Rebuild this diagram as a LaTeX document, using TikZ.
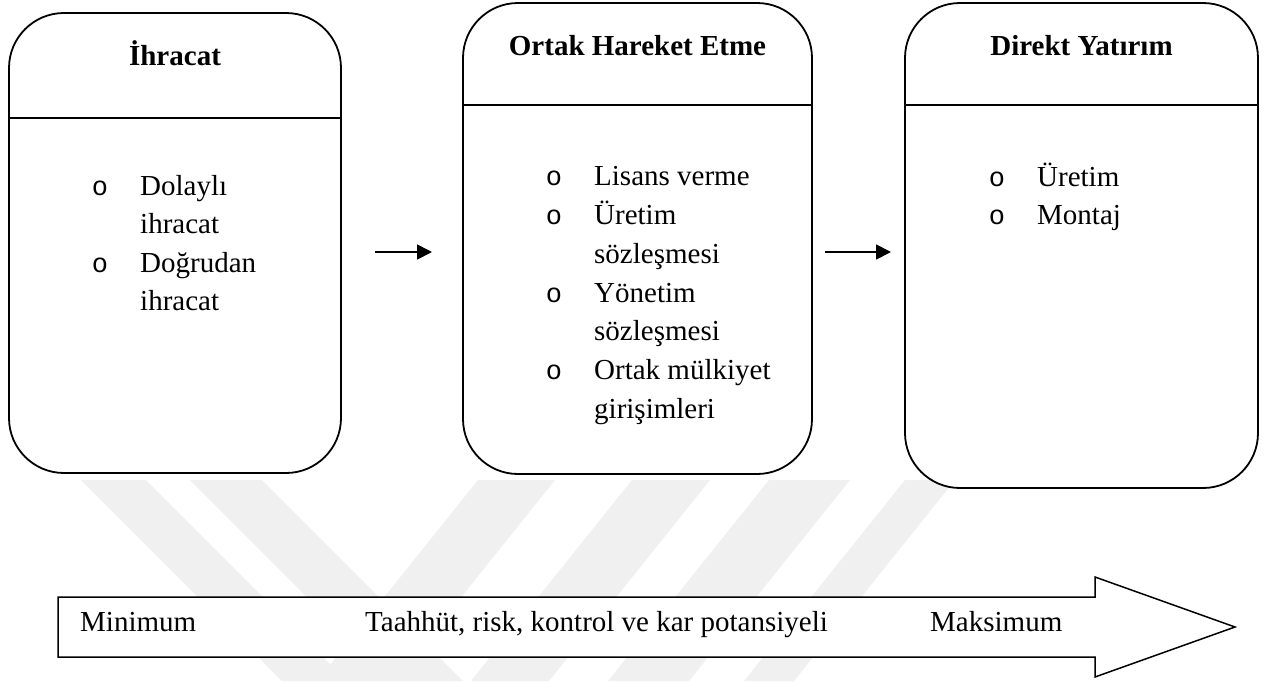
\documentclass[tikz,border=0pt]{standalone}
\usepackage{fontspec}
\setmainfont{Liberation Serif}
\newfontfamily\bulletfont{Liberation Mono}
\usetikzlibrary{arrows.meta}
\begin{document}
\begin{tikzpicture}[x=1pt,y=-1pt,
  box/.style={draw, line width=1.8pt, rounded corners=55pt, fill=white, inner sep=0pt},
  divider/.style={line width=1.8pt},
  title/.style={font=\fontsize{29}{35}\selectfont\bfseries, anchor=base, inner sep=0pt},
  item/.style={font=\fontsize{29}{35}\selectfont, anchor=base west, inner sep=0pt},
  bul/.style={font=\fontsize{27}{35}\selectfont\bulletfont, anchor=base, inner sep=0pt},
  flow/.style={line width=1.8pt, -{Triangle[length=15pt,width=15pt]}},
  bigarrow/.style={draw, line width=1.5pt, fill=white, line join=miter},
  wm/.style={fill=black!6, draw=none}]
\useasboundingbox (0,0) rectangle (1270,681);
\fill[white] (0,0) rectangle (1270,681);
% watermark
\fill[wm] (81,480) -- (146,480) -- (347,681) -- (282,681) -- cycle;
\fill[wm] (190,480) -- (262,480) -- (463,681) -- (391,681) -- cycle;
\fill[wm] (478,480) -- (555,480) -- (394,681) -- (317,681) -- cycle;
\fill[wm] (632,480) -- (710,480) -- (549,681) -- (471,681) -- cycle;
\fill[wm] (769,480) -- (850,480) -- (689,681) -- (608,681) -- cycle;
\fill[wm] (905,480) -- (955,480) -- (794,681) -- (744,681) -- cycle;
% boxes
\node[box, minimum width=332pt, minimum height=460pt] (b1) at (175,243) {};
\node[box, minimum width=349pt, minimum height=471pt] (b2) at (637.5,238.5) {};
\node[box, minimum width=353pt, minimum height=485pt] (b3) at (1081.5,245.5) {};
\draw[divider] (b1.west |- 0,118) -- (b1.east |- 0,118);
\draw[divider] (b2.west |- 0,105) -- (b2.east |- 0,105);
\draw[divider] (b3.west |- 0,105) -- (b3.east |- 0,105);
% titles
\node[title] (t1) at (175,65) {İhracat};
\node[title] (t2) at (637.5,55) {Ortak Hareket Etme};
\node[title] (t3) at (1081.5,55) {Direkt Yatırım};
% box 1 items
\node[bul] (o1a) at (100,195) {o};
\node[item] (i1a) at (140,195) {Dolaylı};
\node[item] (i1b) at (140,233.5) {ihracat};
\node[bul] (o1c) at (100,272) {o};
\node[item] (i1c) at (140,272) {Doğrudan};
\node[item] (i1d) at (140,310.5) {ihracat};
% box 2 items
\node[bul] (o2a) at (554,185) {o};
\node[item] (i2a) at (594,185) {Lisans verme};
\node[bul] (o2b) at (554,224) {o};
\node[item] (i2b) at (594,224) {Üretim};
\node[item] (i2c) at (594,263) {sözleşmesi};
\node[bul] (o2d) at (554,302) {o};
\node[item] (i2d) at (594,302) {Yönetim};
\node[item] (i2e) at (594,340.5) {sözleşmesi};
\node[bul] (o2f) at (554,379) {o};
\node[item] (i2f) at (594,379) {Ortak mülkiyet};
\node[item] (i2g) at (594,418) {girişimleri};
% box 3 items
\node[bul] (o3a) at (997,186) {o};
\node[item] (i3a) at (1037,186) {Üretim};
\node[bul] (o3b) at (997,224) {o};
\node[item] (i3b) at (1037,224) {Montaj};
% flow arrows
\coordinate (a1s) at (375,252);
\coordinate (a1e) at (432,252);
\coordinate (a2s) at (825,252);
\coordinate (a2e) at (891,252);
\draw[flow] (a1s) -- (a1e);
\draw[flow] (a2s) -- (a2e);
% big arrow
\draw[bigarrow] (58,597) -- (1095,597) -- (1095,577) -- (1235,627) -- (1095,677) -- (1095,657) -- (58,657) -- cycle;
\node[item] (lmin) at (80,631) {Minimum};
\node[item] (lmid) at (365,631) {Taahhüt, risk, kontrol ve kar potansiyeli};
\node[item] (lmax) at (930,631) {Maksimum};
\end{tikzpicture}
\end{document}
